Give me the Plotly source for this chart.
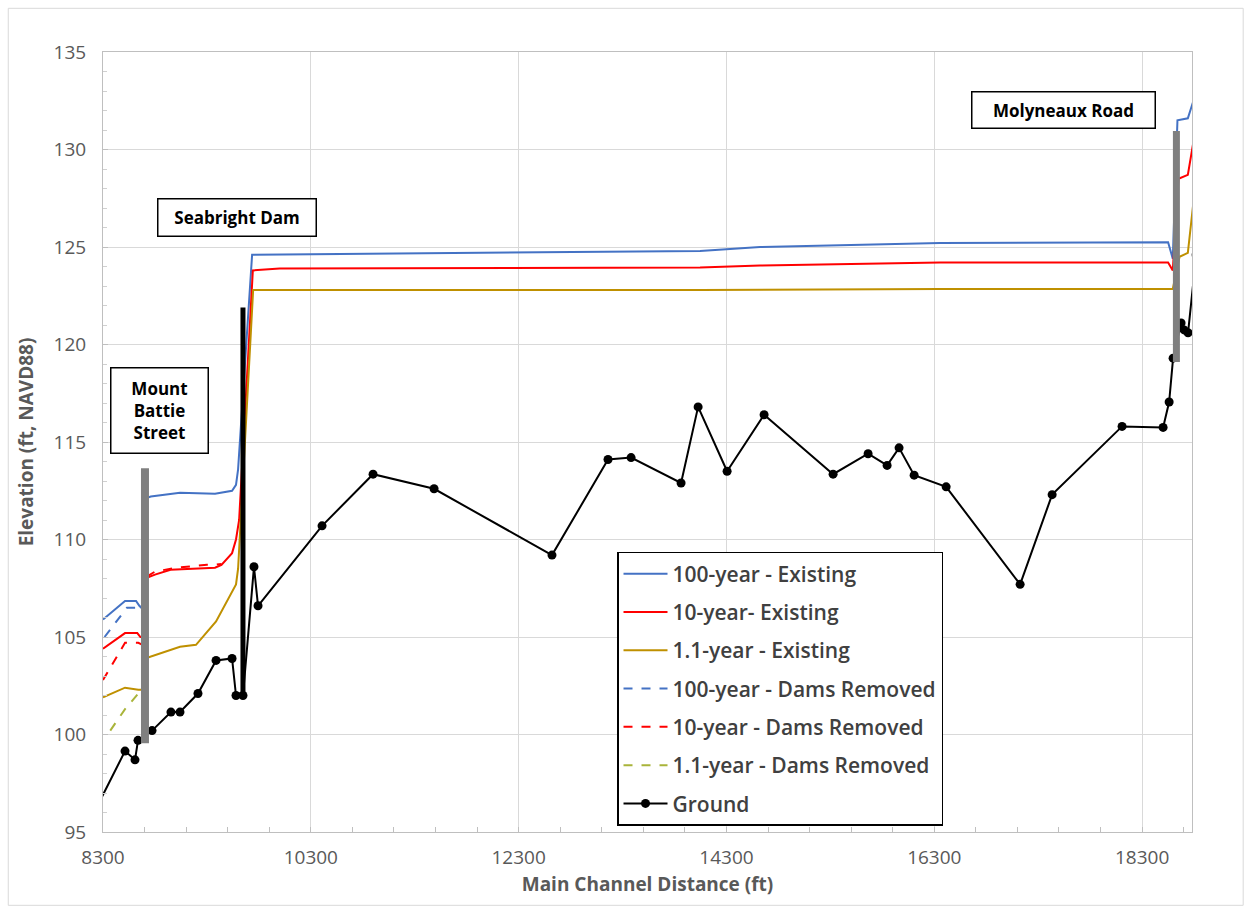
import plotly.graph_objects as go

# ---- Ground profile (station ft, elevation ft NAVD88) ----
ground_x = [8200, 8512, 8608, 8637, 8772, 8954, 9041, 9214, 9388, 9542, 9580, 9647,
            9753, 9792, 10408, 10899, 11486, 12621, 13160, 13382, 13863, 14027,
            14306, 14662, 15326, 15663, 15846, 15961, 16106, 16414, 17126, 17434,
            18107, 18502, 18560, 18598, 18675, 18704, 18742, 18820]
ground_y = [95.85, 99.15, 98.7, 99.7, 100.2, 101.15, 101.15, 102.1, 103.8, 103.9, 102.0, 102.0,
            108.6, 106.6, 110.7, 113.35, 112.6, 109.2, 114.1, 114.2, 112.9, 116.8,
            113.5, 116.4, 113.35, 114.4, 113.8, 114.7, 113.3, 112.7, 107.7, 112.3,
            115.8, 115.75, 117.05, 119.3, 121.1, 120.75, 120.6, 124.6]

# ---- Existing conditions water surfaces ----
wse100_x = [8300, 8512, 8618, 8650, 8704, 8704, 8760, 9041, 9378, 9542, 9580, 9600,
            9735, 10196, 12121, 14046, 14623, 16356, 18550, 18595, 18640, 18740, 18800]
wse100_y = [105.9, 106.85, 106.85, 106.6, 106.3, 112.1, 112.2, 112.4, 112.35, 112.5, 112.8, 113.6,
            124.6, 124.62, 124.7, 124.8, 125.0, 125.2, 125.25, 124.4, 131.5, 131.6, 132.6]

wse10_x = [8300, 8512, 8630, 8660, 8704, 8704, 8800, 8950, 9378, 9440, 9542, 9580, 9610,
           9742, 10000, 14046, 14623, 16356, 18550, 18595, 18650, 18740, 18800]
wse10_y = [104.4, 105.2, 105.2, 105.0, 105.0, 108.0, 108.2, 108.45, 108.55, 108.7, 109.3, 110.0, 111.0,
           123.8, 123.9, 123.95, 124.05, 124.2, 124.2, 123.8, 128.5, 128.7, 130.6]

wse1_x = [8300, 8512, 8640, 8704, 8704, 9041, 9195, 9388, 9580, 9600, 9745,
          14046, 16356, 18595, 18660, 18740, 18800]
wse1_y = [101.9, 102.4, 102.3, 102.3, 103.9, 104.5, 104.6, 105.8, 107.7, 108.5, 122.8,
          122.8, 122.85, 122.85, 124.5, 124.7, 127.6]

# ---- Dams removed water surfaces (downstream reach) ----
dr100_x = [8315, 8530, 8640, 8680]
dr100_y = [105.0, 106.5, 106.5, 106.2]

dr10_x = [8300, 8512, 8640, 8680, None, 8720, 8800, 9000, 9300, 9378, 9440]
dr10_y = [102.8, 104.7, 104.7, 104.6, None, 108.1, 108.35, 108.55, 108.7, 108.7, 108.75]

dr1_x = [8370, 8512, 8640, 8680]
dr1_y = [100.2, 101.3, 102.1, 102.2]

# ---- Structures (station, bottom, top) ----
struct_names = ["Mount<br>Battie<br>Street", "Seabright Dam", "Molyneaux Road"]
struct_x = [8704, 9647, 18630]
struct_bottom = [99.55, 101.9, 119.1]
struct_top = [113.65, 121.9, 130.95]
# label box centres
label_x = [8839, 9585, 17540]
label_y = [116.6, 126.5, 132.05]

x_ticks = [8300, 10300, 12300, 14300, 16300, 18300]
y_ticks = [95, 100, 105, 110, 115, 120, 125, 130, 135]

FONT = "Open Sans"
GRAY_TXT = "#595959"

fig = go.Figure()

series = [
    ("100-year - Existing", wse100_x, wse100_y, "#4472C4", "solid"),
    ("10-year- Existing", wse10_x, wse10_y, "#FF0000", "solid"),
    ("1.1-year - Existing", wse1_x, wse1_y, "#BF9000", "solid"),
    ("100-year - Dams Removed", dr100_x, dr100_y, "#4472C4", "dash"),
    ("10-year - Dams Removed", dr10_x, dr10_y, "#FF0000", "dash"),
    ("1.1-year - Dams Removed", dr1_x, dr1_y, "#A9B43A", "dash"),
]
for i, (name, xs, ys, col, dash) in enumerate(series):
    fig.add_trace(go.Scatter(
        x=xs, y=ys, name=name, mode="lines", legendgroup=f"g{i}",
        line=dict(color=col, width=2, dash=dash), connectgaps=False,
    ))

fig.add_trace(go.Scatter(
    x=ground_x, y=ground_y, name="Ground", mode="lines+markers", legendgroup="g6",
    line=dict(color="black", width=2),
    marker=dict(color="black", size=9, symbol="circle"),
))

# bridges and dam as thick vertical bars
struct_colors = ["#7F7F7F", "black", "#7F7F7F"]
struct_widths = [8, 5, 7]
for sx, sb, st, sc, sw in zip(struct_x, struct_bottom, struct_top, struct_colors, struct_widths):
    fig.add_trace(go.Scatter(
        x=[sx, sx], y=[sb, st], mode="lines", showlegend=False, hoverinfo="skip",
        line=dict(color=sc, width=sw),
    ))

# structure labels
label_w = [92, 153, 178]
label_h = [80, 32, 31]
for name, lx, ly, w, h in zip(struct_names, label_x, label_y, label_w, label_h):
    fig.add_annotation(
        x=lx, y=ly, xref="x", yref="y", text=f"<b>{name}</b>", showarrow=False,
        font=dict(family=FONT, size=17, color="black"),
        bgcolor="white", bordercolor="black", borderwidth=1.5, borderpad=2,
        width=w, height=h, align="center", valign="middle",
    )

# outer chart frame
fig.add_shape(type="rect", xref="paper", yref="paper",
              x0=-0.087, x1=1.047, y0=-0.094, y1=1.056,
              line=dict(color="#D9D9D9", width=1), fillcolor="rgba(0,0,0,0)", layer="below")

fig.update_layout(
    width=1250, height=911,
    margin=dict(l=103, r=58, t=52, b=79),
    paper_bgcolor="white", plot_bgcolor="white",
    font=dict(family=FONT, color=GRAY_TXT),
    showlegend=True,
    legend=dict(
        x=0.472, y=0.359, xanchor="left", yanchor="top",
        bgcolor="white", bordercolor="black", borderwidth=1.5,
        font=dict(family=FONT, size=21, color="#404040", weight=600),
        tracegroupgap=8, itemwidth=44,
    ),
    xaxis=dict(
        range=[8300, 18780], tickvals=x_ticks, ticktext=[str(v) for v in x_ticks],
        showgrid=True, gridcolor="#D9D9D9", gridwidth=1,
        showline=True, linecolor="#BFBFBF", linewidth=1, mirror=True,
        ticks="inside", ticklen=5, tickcolor="#BFBFBF",
        minor=dict(dtick=400, tick0=8300, ticks="inside", ticklen=5, tickcolor="#BFBFBF", showgrid=False),
        tickfont=dict(family=FONT, size=19, color=GRAY_TXT),
        ticklabelstandoff=8, zeroline=False,
        title=dict(text="<b>Main Channel Distance (ft)</b>", font=dict(family=FONT, size=19, color=GRAY_TXT),
                   standoff=8),
    ),
    yaxis=dict(
        range=[95, 135], tickvals=y_ticks, ticktext=[str(v) for v in y_ticks],
        showgrid=True, gridcolor="#D9D9D9", gridwidth=1,
        showline=True, linecolor="#BFBFBF", linewidth=1, mirror=True,
        ticks="inside", ticklen=5, tickcolor="#BFBFBF",
        minor=dict(dtick=1, tick0=95, ticks="inside", ticklen=4, tickcolor="#D0D0D0", showgrid=False),
        tickfont=dict(family=FONT, size=19, color=GRAY_TXT),
        ticklabelstandoff=12, zeroline=False,
        title=dict(text="<b>Elevation (ft, NAVD88)</b>", font=dict(family=FONT, size=19, color=GRAY_TXT),
                   standoff=14),
    ),
)

fig.write_html("out.html")
